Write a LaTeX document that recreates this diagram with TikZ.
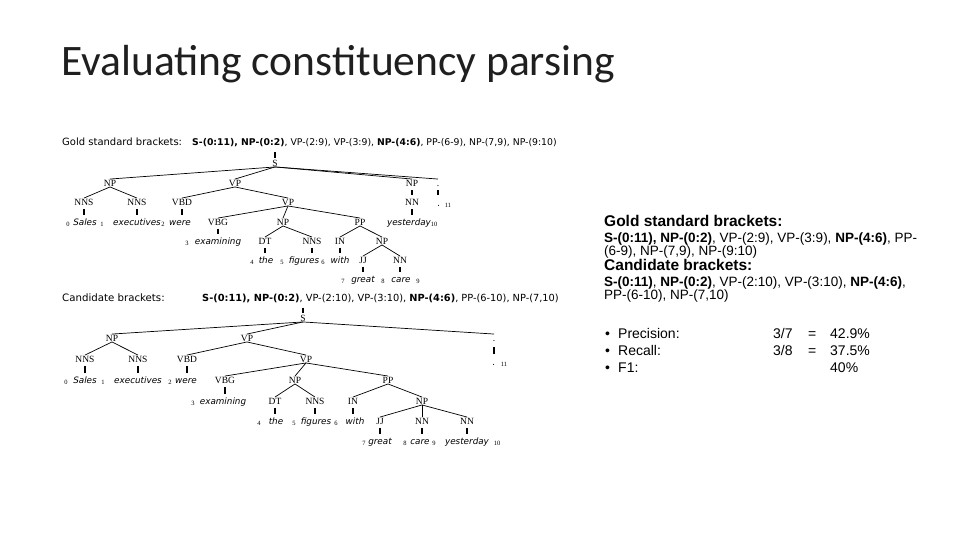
\documentclass[tikz,border=0pt]{standalone}
\usepackage{fontspec}
\setmainfont{Carlito}
\newfontfamily\trsans{DejaVu Sans}
\newfontfamily\trserif{Liberation Serif}
\newfontfamily\rsans{Liberation Sans}
\begin{document}
\begin{tikzpicture}[x=1pt,y=-1pt,
  cat/.style={font=\trserif\fontsize{9.5}{10}\selectfont, inner sep=0.6pt, text height=6.3pt, text depth=0pt},
  wd/.style={font=\trsans\itshape\fontsize{8.8}{10}\selectfont, inner sep=0.6pt, text height=6.5pt, text depth=0pt},
  idx/.style={font=\trserif\fontsize{6.5}{7}\selectfont, inner sep=0pt},
  hd/.style={font=\trsans\fontsize{9.3}{10}\selectfont, inner sep=0pt, anchor=base west},
  rt/.style={font=\rsans\fontsize{13.5}{14}\selectfont, inner sep=0pt, anchor=base west},
  rh/.style={font=\rsans\bfseries\fontsize{15.5}{16}\selectfont, inner sep=0pt, anchor=base west},
  bl/.style={font=\rsans\fontsize{14}{15}\selectfont, inner sep=0pt, anchor=base west},
  br/.style={line width=0.7pt},
  tk/.style={line width=1.2pt, shorten <=2.8pt, shorten >=2.8pt},
  rtk/.style={line width=1.2pt, shorten <=0.5pt, shorten >=1.5pt}]
\useasboundingbox (0,0) rectangle (960,540);

% title
\node[font=\fontsize{43.5}{48}\selectfont, text=black!88, inner sep=0pt, anchor=base west] (title) at (61,76) {Evaluating constituency parsing};

% ---------------- gold tree ----------------
\node[hd, font=\trsans\fontsize{10}{11}\selectfont] (gh) at (62,145.5) {Gold standard brackets:};
\node[hd] (gl) at (192,145.5) {\textbf{S-(0:11), NP-(0:2)}, VP-(2:9), VP-(3:9), \textbf{NP-(4:6)}, PP-(6-9), NP-(7,9), NP-(9:10)};

\node[cat] (gS) at (275,163) {S};
\coordinate (gR) at (275,152);
\draw[rtk] (gR) -- (gS.north);
\node[cat] (gNP1) at (110,183) {NP};
\node[cat] (gVP1) at (235,183) {VP};
\node[cat] (gNP2) at (412,183) {NP};
\node[cat] (gPd) at (438,183) {.};
\foreach \c in {gNP1,gVP1,gNP2,gPd} \draw[br] (gS.south) -- (\c.north);

\node[cat] (gNNS1) at (84,202) {NNS};
\node[cat] (gNNS2) at (137,202) {NNS};
\draw[br] (gNP1.south) -- (gNNS1.north);
\draw[br] (gNP1.south) -- (gNNS2.north);
\node[cat] (gVBD) at (182,202) {VBD};
\node[cat] (gVP2) at (288,202) {VP};
\draw[br] (gVP1.south) -- (gVBD.north);
\draw[br] (gVP1.south) -- (gVP2.north);
\node[cat] (gNN1) at (412,202) {NN};
\draw[tk] (gNP2.south) -- (gNP2.south |- gNN1.north);

\node[wd] (gw0) at (85,222) {Sales};
\node[wd] (gw1) at (137,222) {executives};
\node[wd] (gw2) at (180,222) {were};
\node[wd] (gw10) at (409,222) {yesterday};
\node[wd] (gw11) at (439,203) {.};
\draw[tk] (gNNS1.south) -- (gNNS1.south |- gw0.north);
\draw[tk] (gNNS2.south) -- (gNNS2.south |- gw1.north);
\draw[tk] (gVBD.south) -- (gVBD.south |- gw2.north);
\draw[tk] (gNN1.south) -- (gNN1.south |- gw10.north);
\draw[line width=1.2pt] ([yshift=-3.5pt]gPd.south) -- ([yshift=-8.5pt]gPd.south);

\node[cat] (gVBG) at (218,222) {VBG};
\node[cat] (gNP3) at (283,222) {NP};
\node[cat] (gPP) at (360,222) {PP};
\foreach \c in {gVBG,gNP3,gPP} \draw[br] (gVP2.south) -- (\c.north);

\node[wd] (gw3) at (218,241) {examining};
\draw[tk] (gVBG.south) -- (gVBG.south |- gw3.north);
\node[cat] (gDT) at (265,241) {DT};
\node[cat] (gNNS3) at (312,241) {NNS};
\draw[br] (gNP3.south) -- (gDT.north);
\draw[br] (gNP3.south) -- (gNNS3.north);
\node[cat] (gIN) at (340,241) {IN};
\node[cat] (gNP4) at (382,241) {NP};
\draw[br] (gPP.south) -- (gIN.north);
\draw[br] (gPP.south) -- (gNP4.north);

\node[wd] (gw4) at (266,260) {the};
\node[wd] (gw5) at (304,260) {figures};
\node[wd] (gw6) at (340,260) {with};
\draw[tk] (gDT.south) -- (gDT.south |- gw4.north);
\draw[tk] (gNNS3.south) -- (gNNS3.south |- gw5.north);
\draw[tk] (gIN.south) -- (gIN.south |- gw6.north);
\node[cat] (gJJ) at (363,260) {JJ};
\node[cat] (gNN2) at (400,260) {NN};
\draw[br] (gNP4.south) -- (gJJ.north);
\draw[br] (gNP4.south) -- (gNN2.north);
\node[wd] (gw7) at (363,279) {great};
\node[wd] (gw8) at (401,279) {care};
\draw[tk] (gJJ.south) -- (gJJ.south |- gw7.north);
\draw[tk] (gNN2.south) -- (gNN2.south |- gw8.north);

\node[idx] (gi0) at (68,224) {0};
\node[idx] (gi1) at (102,224) {1};
\node[idx] (gi2) at (163,224) {2};
\node[idx] (gi3) at (187,243) {3};
\node[idx] (gi4) at (252,262) {4};
\node[idx] (gi5) at (282,262) {5};
\node[idx] (gi6) at (323,262) {6};
\node[idx] (gi7) at (343,281) {7};
\node[idx] (gi8) at (383,281) {8};
\node[idx] (gi9) at (418,281) {9};
\node[idx] (gi10) at (434,224) {10};
\node[idx] (gi11) at (448,205) {11};

% ---------------- candidate tree ----------------
\node[hd, font=\trsans\fontsize{10.2}{11}\selectfont] (ch) at (62,301.5) {Candidate brackets:};
\node[hd, font=\trsans\fontsize{9.8}{11}\selectfont] (cl) at (202,301.5) {\textbf{S-(0:11), NP-(0:2)}, VP-(2:10), VP-(3:10), \textbf{NP-(4:6)}, PP-(6-10), NP-(7,10)};

\node[cat] (cS) at (303,318) {S};
\coordinate (cR) at (303,307);
\draw[rtk] (cR) -- (cS.north);
\node[cat] (cNP1) at (112,338) {NP};
\node[cat] (cVP1) at (247,338) {VP};
\node[cat] (cPd) at (494,338) {.};
\foreach \c in {cNP1,cVP1,cPd} \draw[br] (cS.south) -- (\c.north);

\node[cat] (cNNS1) at (85,359) {NNS};
\node[cat] (cNNS2) at (138,359) {NNS};
\draw[br] (cNP1.south) -- (cNNS1.north);
\draw[br] (cNP1.south) -- (cNNS2.north);
\node[cat] (cVBD) at (187,359) {VBD};
\node[cat] (cVP2) at (306,359) {VP};
\draw[br] (cVP1.south) -- (cVBD.north);
\draw[br] (cVP1.south) -- (cVP2.north);

\node[wd] (cw0) at (85,380) {Sales};
\node[wd] (cw1) at (138,380) {executives};
\node[wd] (cw2) at (186,380) {were};
\node[wd] (cw11) at (494,362) {.};
\draw[tk] (cNNS1.south) -- (cNNS1.south |- cw0.north);
\draw[tk] (cNNS2.south) -- (cNNS2.south |- cw1.north);
\draw[tk] (cVBD.south) -- (cVBD.south |- cw2.north);
\draw[line width=1.2pt] ([yshift=-5pt]cPd.south) -- ([yshift=-12pt]cPd.south);

\node[cat] (cVBG) at (225,380) {VBG};
\node[cat] (cNP3) at (295,380) {NP};
\node[cat] (cPP) at (388,380) {PP};
\foreach \c in {cVBG,cNP3,cPP} \draw[br] (cVP2.south) -- (\c.north);

\node[wd] (cw3) at (223,401) {examining};
\draw[tk] (cVBG.south) -- (cVBG.south |- cw3.north);
\node[cat] (cDT) at (275,401) {DT};
\node[cat] (cNNS3) at (315,401) {NNS};
\draw[br] (cNP3.south) -- (cDT.north);
\draw[br] (cNP3.south) -- (cNNS3.north);
\node[cat] (cIN) at (353,401) {IN};
\node[cat] (cNP4) at (422,401) {NP};
\draw[br] (cPP.south) -- (cIN.north);
\draw[br] (cPP.south) -- (cNP4.north);

\node[wd] (cw4) at (276,421) {the};
\node[wd] (cw5) at (316,421) {figures};
\node[wd] (cw6) at (355,421) {with};
\draw[tk] (cDT.south) -- (cDT.south |- cw4.north);
\draw[tk] (cNNS3.south) -- (cNNS3.south |- cw5.north);
\draw[tk] (cIN.south) -- (cIN.south |- cw6.north);
\node[cat] (cJJ) at (380,421) {JJ};
\node[cat] (cNN1) at (422,421) {NN};
\node[cat] (cNN2) at (467,421) {NN};
\foreach \c in {cJJ,cNN1,cNN2} \draw[br] (cNP4.south) -- (\c.north);
\node[wd] (cw7) at (380,441) {great};
\node[wd] (cw8) at (420,441) {care};
\node[wd] (cw10) at (467,441) {yesterday};
\draw[tk] (cJJ.south) -- (cJJ.south |- cw7.north);
\draw[tk] (cNN1.south) -- (cNN1.south |- cw8.north);
\draw[tk] (cNN2.south) -- (cNN2.south |- cw10.north);

\node[idx] (ci0) at (66,382) {0};
\node[idx] (ci1) at (103,382) {1};
\node[idx] (ci2) at (170,382) {2};
\node[idx] (ci3) at (193,403) {3};
\node[idx] (ci4) at (259,423) {4};
\node[idx] (ci5) at (294,423) {5};
\node[idx] (ci6) at (336,423) {6};
\node[idx] (ci7) at (364,443) {7};
\node[idx] (ci8) at (405,443) {8};
\node[idx] (ci9) at (434,443) {9};
\node[idx] (ci10) at (497,443) {10};
\node[idx] (ci11) at (504,364) {11};

% ---------------- right text ----------------
\node[rh] (h1) at (604,226) {Gold standard brackets:};
\node[rt] (l2) at (604,242) {\textbf{S-(0:11), NP-(0:2)}, VP-(2:9), VP-(3:9), \textbf{NP-(4:6)}, PP-};
\node[rt] (l3) at (604,255) {(6-9), NP-(7,9), NP-(9:10)};
\node[rh] (h2) at (604,270) {Candidate brackets:};
\node[rt] (l5) at (604,286) {\textbf{S-(0:11)}, \textbf{NP-(0:2)}, VP-(2:10), VP-(3:10), \textbf{NP-(4:6)},};
\node[rt] (l6) at (604,299) {PP-(6-10), NP-(7,10)};

\node[bl] (b1) at (605,338) {\textbullet};
\node[bl] (p1) at (618,338) {Precision:};
\node[bl] (p2) at (773,338) {3/7};
\node[bl] (p3) at (808,338) {=};
\node[bl] (p4) at (830,338) {42.9\%};
\node[bl] (b2) at (605,355) {\textbullet};
\node[bl] (r1) at (618,355) {Recall:};
\node[bl] (r2) at (773,355) {3/8};
\node[bl] (r3) at (808,355) {=};
\node[bl] (r4) at (830,355) {37.5\%};
\node[bl] (b3) at (605,372) {\textbullet};
\node[bl] (f1) at (618,372) {F1:};
\node[bl] (f4) at (830,372) {40\%};
\end{tikzpicture}
\end{document}
